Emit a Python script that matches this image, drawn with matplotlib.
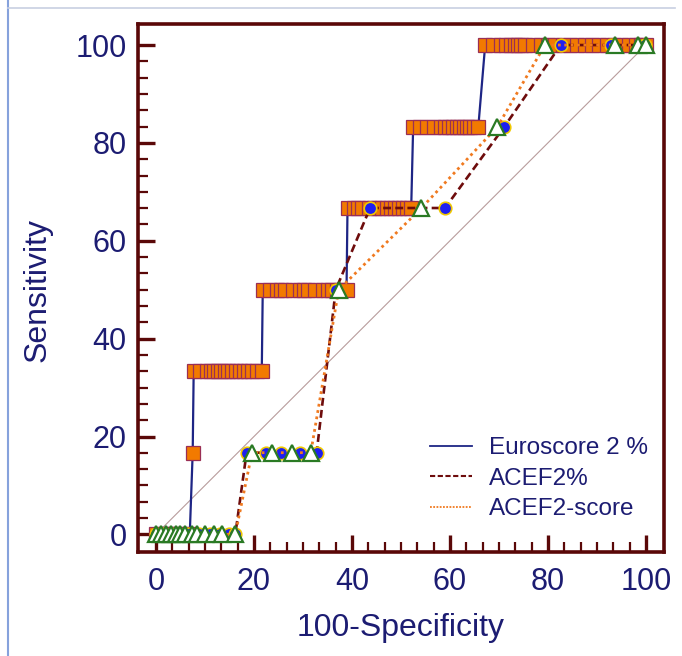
import numpy as np
import matplotlib
matplotlib.use('Agg')
import matplotlib.pyplot as plt
from matplotlib.lines import Line2D
from matplotlib.ticker import FixedLocator

plt.rcParams['font.family'] = ['Liberation Sans', 'DejaVu Sans']

# Euroscore 2 % : ROC points grouped by sensitivity level
euro_x0 = [0.0, 1.2, 2.4, 3.6, 4.8, 6.0, 6.9]
euro_x17 = [7.5]
euro_x33 = [7.7, 9.0, 10.4, 11.2, 11.9, 12.6, 13.3, 14.0, 14.8, 15.5, 16.3,
            17.1, 17.9, 18.8, 19.7, 20.6, 21.6]
euro_x50 = [21.8, 23.2, 24.8, 25.6, 26.4, 27.9, 29.5, 30.3, 31.1, 32.5, 34.0,
            35.2, 36.0, 37.0, 37.8, 38.9]
euro_x67 = [39.1, 40.5, 41.2, 42.0, 43.5, 44.5, 45.3, 46.2, 47.2, 48.0, 48.8,
            49.6, 50.4, 51.2, 52.1]
euro_x83 = [52.5, 53.9, 55.4, 56.8, 58.2, 59.0, 59.8, 60.6, 61.4, 62.1, 62.8,
            63.5, 64.2, 65.0, 65.8]
euro_x100 = [67.2, 68.8, 70.4, 71.5, 72.5, 73.2, 73.9, 74.6, 75.3, 76.9, 78.5,
             80.0, 81.5, 83.0, 84.5, 86.0, 87.5, 89.0, 90.5, 92.0, 93.5, 95.0,
             96.5, 98.0, 99.0, 100.0]

# ACEF2%
acef_x = [0.0, 1.5, 3.0, 4.5, 6.5, 8.8, 11.0, 13.0, 14.9, 16.2,
          18.5, 22.4, 25.5, 29.5, 32.8, 36.7, 43.7, 59.0, 71.1, 82.6, 92.9, 99.8]
acef_y = [0, 0, 0, 0, 0, 0, 0, 0, 0, 0,
          16.7, 16.7, 16.7, 16.7, 16.7, 50.0, 66.7, 66.7, 83.3, 100, 100, 100]

# ACEF2-score
score_x = [0.0, 1.0, 2.0, 3.0, 4.0, 5.0, 6.0, 7.4, 8.4, 10.1, 11.8, 13.5, 16.2,
           19.6, 23.6, 27.7, 31.6, 37.3, 54.2, 69.7, 79.4, 93.7, 98.4, 100.0]
score_y = [0, 0, 0, 0, 0, 0, 0, 0, 0, 0, 0, 0, 0,
           16.7, 16.7, 16.7, 16.7, 50.0, 66.7, 83.3, 100, 100, 100, 100]

levels = [0, 16.7, 33.3, 50.0, 66.7, 83.3, 100]
groups = [euro_x0, euro_x17, euro_x33, euro_x50, euro_x67, euro_x83, euro_x100]
euro_x = [x for g in groups for x in g]
euro_y = [lv for g, lv in zip(groups, levels) for _ in g]

navy = '#1c1c72'
frame = '#5a0808'

fig = plt.figure(figsize=(6.82, 6.56), dpi=100)
ax = fig.add_axes([0.2023, 0.1585, 0.7713, 0.8049])

ax.plot([0, 100], [0, 100], color='#b89c9c', lw=0.8, zorder=1)

ax.plot(euro_x, euro_y, color='#1e2585', lw=1.6, marker='s', ms=10,
        mfc='#f27a00', mec='#9a2f55', mew=0.9, zorder=2)
ax.plot(acef_x, acef_y, color='#6e0c0c', lw=1.9, ls=(0, (3, 1.6)),
        marker='o', ms=9, mfc='#1f1ff0', mec='#f0c800', mew=1.2, zorder=3)
ax.plot(score_x, score_y, color='#f07a20', lw=2.0, ls=(0, (1, 1.3)),
        marker='^', ms=11.5, mfc='white', mec='#2a7a24', mew=1.6, zorder=4)

ax.set_xlim(-3.67, 103.7)
ax.set_ylim(-3.6, 104.3)

ticks = [0, 20, 40, 60, 80, 100]
ax.set_xticks(ticks)
ax.set_yticks(ticks)
ax.xaxis.set_minor_locator(FixedLocator(np.linspace(0, 100, 31)))
ax.yaxis.set_minor_locator(FixedLocator(np.linspace(0, 100, 31)))
ax.tick_params(which='major', direction='in', length=12, width=2.4,
               color=frame, labelsize=22, labelcolor=navy, pad=8)
ax.tick_params(axis='x', which='major', pad=11)
ax.tick_params(which='minor', direction='in', length=7, width=1.6, color=frame)
ax.tick_params(top=False, right=False, which='both')
for s in ax.spines.values():
    s.set_color(frame)
    s.set_linewidth(2.6)

fig.text(401 / 682, 1 - 628 / 656, '100-Specificity', fontsize=23,
         color=navy, ha='center', va='center')
fig.text(38 / 682, 1 - 290 / 656, 'Sensitivity', fontsize=23, color=navy,
         ha='center', va='center', rotation=90)

handles = [Line2D([], [], color='#1e2585', lw=1.3),
           Line2D([], [], color='#6e0c0c', lw=1.5, ls=(0, (2.5, 1.2))),
           Line2D([], [], color='#f07a20', lw=1.3, ls=(0, (1, 0.8)))]
ax.legend(handles, ['Euroscore 2 %', 'ACEF2%', 'ACEF2-score'],
          loc='upper left', bbox_to_anchor=(430 / 682, 1 - 437 / 656),
          bbox_transform=fig.transFigure, frameon=False, fontsize=17.5,
          labelcolor=navy, handlelength=1.73, handletextpad=0.7,
          labelspacing=0.35, borderpad=0, borderaxespad=0)

# light border lines of the original image
fig.add_artist(Line2D([8 / 682, 8 / 682], [0, 1], color='#86a2dc', lw=1.5,
                      transform=fig.transFigure))
fig.add_artist(Line2D([8 / 682, 675 / 682], [1 - 8 / 656, 1 - 8 / 656],
                      color='#c8cfe2', lw=1.2, transform=fig.transFigure))

fig.savefig('out.png', dpi=100)
